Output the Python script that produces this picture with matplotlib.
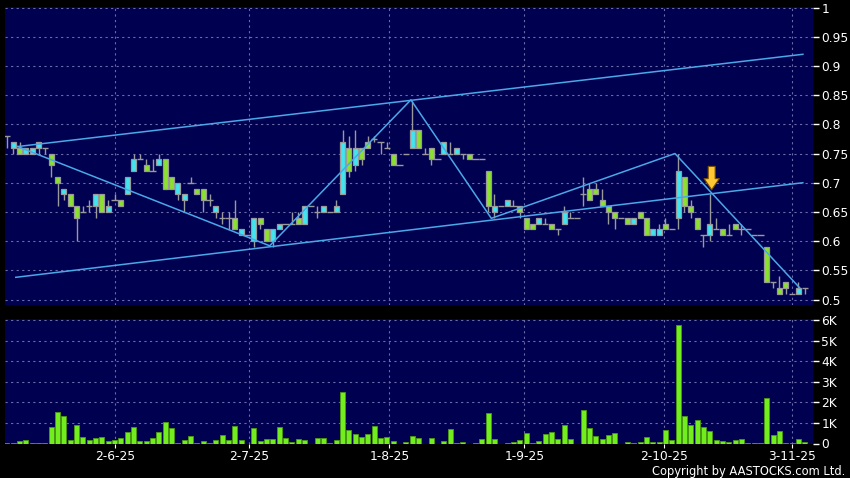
import matplotlib
matplotlib.use("Agg")
import matplotlib.pyplot as plt

# daily OHLC, one entry per trading day (index = bar position)
opens = [0.78, 0.76, 0.76, 0.75, 0.75, 0.76, 0.76, 0.75, 0.71, 0.68,
         0.68, 0.66, 0.65, 0.66, 0.66, 0.68, 0.65, 0.67, 0.67, 0.68,
         0.72, 0.74, 0.73, 0.72, 0.73, 0.74, 0.71, 0.68, 0.67, 0.70,
         0.69, 0.69, 0.67, 0.65, 0.64, 0.64, 0.64, 0.61, 0.61, 0.60,
         0.64, 0.62, 0.60, 0.62, 0.63, 0.63, 0.64, 0.63, 0.66, 0.65,
         0.65, 0.65, 0.65, 0.68, 0.76, 0.73, 0.76, 0.77, 0.775, 0.77,
         0.76, 0.75, 0.73, 0.75, 0.76, 0.79, 0.75, 0.76, 0.74, 0.75,
         0.75, 0.75, 0.75, 0.75, 0.74, 0.74, 0.72, 0.65, 0.66, 0.66,
         0.66, 0.66, 0.64, 0.63, 0.63, 0.63, 0.63, 0.62, 0.63, 0.64,
         0.64, 0.68, 0.69, 0.69, 0.67, 0.66, 0.65, 0.64, 0.64, 0.63,
         0.65, 0.64, 0.61, 0.61, 0.63, 0.62, 0.64, 0.71, 0.66, 0.64,
         0.61, 0.61, 0.62, 0.62, 0.61, 0.63, 0.62, 0.62, 0.61, 0.61,
         0.59, 0.53, 0.52, 0.53, 0.51, 0.51, 0.52]
highs = [0.78, 0.77, 0.77, 0.76, 0.76, 0.77, 0.76, 0.75, 0.71, 0.69,
         0.68, 0.66, 0.66, 0.67, 0.68, 0.68, 0.67, 0.68, 0.67, 0.71,
         0.75, 0.75, 0.74, 0.74, 0.75, 0.74, 0.71, 0.70, 0.68, 0.71,
         0.69, 0.69, 0.68, 0.66, 0.65, 0.65, 0.67, 0.62, 0.61, 0.64,
         0.64, 0.62, 0.62, 0.63, 0.63, 0.65, 0.65, 0.66, 0.66, 0.66,
         0.66, 0.65, 0.67, 0.79, 0.78, 0.79, 0.76, 0.78, 0.78, 0.77,
         0.77, 0.75, 0.73, 0.75, 0.84, 0.79, 0.76, 0.76, 0.74, 0.77,
         0.77, 0.76, 0.75, 0.75, 0.74, 0.74, 0.72, 0.68, 0.66, 0.67,
         0.67, 0.66, 0.64, 0.63, 0.64, 0.64, 0.63, 0.62, 0.66, 0.65,
         0.64, 0.71, 0.70, 0.70, 0.69, 0.66, 0.65, 0.64, 0.64, 0.64,
         0.65, 0.64, 0.62, 0.63, 0.64, 0.62, 0.75, 0.71, 0.67, 0.64,
         0.61, 0.68, 0.64, 0.62, 0.63, 0.63, 0.63, 0.62, 0.61, 0.61,
         0.59, 0.53, 0.54, 0.53, 0.51, 0.53, 0.52]
lows = [0.76, 0.75, 0.75, 0.75, 0.75, 0.75, 0.75, 0.71, 0.66, 0.67,
        0.66, 0.60, 0.65, 0.65, 0.64, 0.65, 0.65, 0.67, 0.66, 0.68,
        0.72, 0.74, 0.72, 0.72, 0.73, 0.69, 0.69, 0.67, 0.65, 0.70,
        0.68, 0.65, 0.66, 0.64, 0.63, 0.62, 0.62, 0.61, 0.61, 0.59,
        0.62, 0.60, 0.59, 0.62, 0.63, 0.63, 0.63, 0.63, 0.66, 0.64,
        0.65, 0.65, 0.65, 0.68, 0.71, 0.72, 0.73, 0.76, 0.77, 0.75,
        0.76, 0.73, 0.73, 0.75, 0.76, 0.76, 0.75, 0.73, 0.74, 0.75,
        0.75, 0.75, 0.74, 0.74, 0.74, 0.74, 0.65, 0.64, 0.66, 0.66,
        0.66, 0.64, 0.62, 0.62, 0.63, 0.63, 0.62, 0.61, 0.63, 0.64,
        0.64, 0.66, 0.67, 0.68, 0.66, 0.63, 0.62, 0.64, 0.63, 0.63,
        0.64, 0.61, 0.61, 0.61, 0.62, 0.62, 0.62, 0.65, 0.64, 0.62,
        0.59, 0.60, 0.62, 0.61, 0.61, 0.62, 0.61, 0.62, 0.61, 0.61,
        0.53, 0.52, 0.51, 0.51, 0.51, 0.51, 0.51]
closes = [0.78, 0.77, 0.75, 0.76, 0.76, 0.77, 0.76, 0.73, 0.70, 0.69,
          0.66, 0.64, 0.65, 0.66, 0.68, 0.65, 0.66, 0.67, 0.66, 0.71,
          0.74, 0.74, 0.72, 0.72, 0.74, 0.69, 0.69, 0.70, 0.68, 0.70,
          0.68, 0.67, 0.67, 0.66, 0.64, 0.64, 0.62, 0.62, 0.61, 0.64,
          0.63, 0.60, 0.62, 0.63, 0.63, 0.63, 0.63, 0.66, 0.66, 0.65,
          0.66, 0.65, 0.66, 0.77, 0.72, 0.76, 0.74, 0.76, 0.775, 0.77,
          0.76, 0.73, 0.73, 0.75, 0.79, 0.76, 0.75, 0.74, 0.74, 0.77,
          0.75, 0.76, 0.75, 0.74, 0.74, 0.74, 0.66, 0.66, 0.66, 0.67,
          0.66, 0.65, 0.62, 0.62, 0.64, 0.63, 0.62, 0.62, 0.65, 0.64,
          0.64, 0.68, 0.67, 0.68, 0.66, 0.65, 0.64, 0.64, 0.63, 0.64,
          0.64, 0.61, 0.62, 0.62, 0.62, 0.62, 0.72, 0.66, 0.65, 0.62,
          0.61, 0.63, 0.62, 0.61, 0.61, 0.62, 0.62, 0.62, 0.61, 0.61,
          0.53, 0.53, 0.51, 0.52, 0.51, 0.52, 0.52]
volumes = [20, 30, 110, 180, 20, 40, 30, 800, 1550, 1350,
           180, 880, 310, 150, 290, 340, 110, 150, 280, 540,
           810, 110, 110, 280, 570, 1060, 730, 30, 150, 360,
           20, 110, 20, 180, 420, 180, 860, 150, 0, 730,
           100, 240, 210, 780, 260, 80, 210, 160, 0, 290,
           260, 20, 180, 2500, 680, 440, 330, 470, 850, 280,
           340, 110, 0, 80, 370, 290, 0, 280, 0, 110,
           720, 20, 50, 0, 10, 240, 1500, 240, 0, 10,
           50, 150, 520, 30, 100, 470, 540, 240, 890, 240,
           0, 1610, 750, 370, 240, 410, 500, 0, 80, 30,
           80, 340, 50, 50, 650, 150, 5740, 1330, 880, 1120,
           810, 630, 160, 130, 50, 150, 240, 30, 20, 20,
           2210, 420, 600, 30, 30, 200, 80]

date_ticks = [17.1, 38.3, 60.4, 81.7, 103.8, 124.0]
date_labels = ["2-6-25", "2-7-25", "1-8-25", "1-9-25", "2-10-25", "3-11-25"]
price_ticks = [0.5, 0.55, 0.6, 0.65, 0.7, 0.75, 0.8, 0.85, 0.9, 0.95, 1.0]
price_labels = ["0.5", "0.55", "0.6", "0.65", "0.7", "0.75", "0.8", "0.85", "0.9", "0.95", "1"]
vol_ticks = [0, 1000, 2000, 3000, 4000, 5000, 6000]
vol_labels = ["0", "1K", "2K", "3K", "4K", "5K", "6K"]

# drawn trend lines (bar index, price)
upper_x = [1.7, 125.7]
upper_y = [0.762, 0.920]
lower_x = [1.4, 125.7]
lower_y = [0.538, 0.700]
zig_x = [1.7, 41.5, 63.8, 76.5, 105.5, 125.2]
zig_y = [0.762, 0.592, 0.842, 0.639, 0.750, 0.520]
arrow_x = 111.3
arrow_tip = 0.688
arrow_tail = 0.728

navy = "#000050"
grid_c = "#6a6aa8"
up_c = "#3ee6f2"
down_c = "#8ae22c"
edge_c = "#9a9a9a"
line_c = "#4aa8e8"

fig = plt.figure(figsize=(8.5, 4.78), dpi=100)
fig.patch.set_facecolor("black")
ax = fig.add_axes([5 / 850, 1 - 305 / 478, 808 / 850, 298 / 478])
ax2 = fig.add_axes([5 / 850, 1 - 443.5 / 478, 808 / 850, 124.5 / 478])

for a in (ax, ax2):
    a.set_facecolor(navy)
    for s in a.spines.values():
        s.set_visible(False)
    a.set_xlim(-0.3, 127.3)
    a.set_axisbelow(True)
    a.grid(True, color=grid_c, linestyle=(0, (2, 3)), linewidth=0.8)
    a.yaxis.tick_right()
    a.tick_params(axis="y", colors="white", direction="out", length=4, pad=2,
                  labelsize=8.8, width=1)

n = len(opens)
for i in range(n):
    o, h, l, c = opens[i], highs[i], lows[i], closes[i]
    ax.vlines(i, l, h, color=edge_c, linewidth=1, zorder=2)
    if c > o:
        ax.bar(i, c - o, bottom=o, width=0.8, color=up_c, edgecolor=edge_c,
               linewidth=0.9, zorder=3)
    elif c < o:
        ax.bar(i, o - c, bottom=c, width=0.8, color=down_c, edgecolor=edge_c,
               linewidth=0.9, zorder=3)
    else:
        ax.hlines(o, i - 0.5, i + 0.5, color=edge_c, linewidth=1, zorder=3)

ax.plot(upper_x, upper_y, color=line_c, linewidth=1.1, zorder=4)
ax.plot(lower_x, lower_y, color=line_c, linewidth=1.1, zorder=4)
ax.plot(zig_x, zig_y, color=line_c, linewidth=1.1, zorder=4)

ax.annotate("", xy=(arrow_x, arrow_tip), xytext=(arrow_x, arrow_tail),
            arrowprops=dict(arrowstyle="simple,head_length=0.8,head_width=1.1,tail_width=0.5",
                            fc="#ffc832", ec="#7a5000", lw=0.8, mutation_scale=10,
                            shrinkA=0, shrinkB=0), zorder=5)

ax.set_ylim(0.4906, 1.001)
ax.set_yticks(price_ticks, price_labels)
ax.set_xticks(date_ticks)
ax.tick_params(axis="x", length=0, labelbottom=False)

ax2.bar(range(n), volumes, width=0.8, color="#72ee1e", edgecolor="#4a9a10",
        linewidth=0.6, zorder=3)
ax2.set_ylim(0, 6050)
ax2.set_yticks(vol_ticks, vol_labels)
ax2.set_xticks(date_ticks, date_labels)
ax2.tick_params(axis="x", colors="white", direction="out", length=3, pad=2,
                labelsize=8.8)

fig.text(845 / 850, 1 - 472 / 478, "Copyright by AASTOCKS.com Ltd.", color="white",
         ha="right", va="center", fontsize=8.3)

fig.savefig("out.png", dpi=100, facecolor="black")
